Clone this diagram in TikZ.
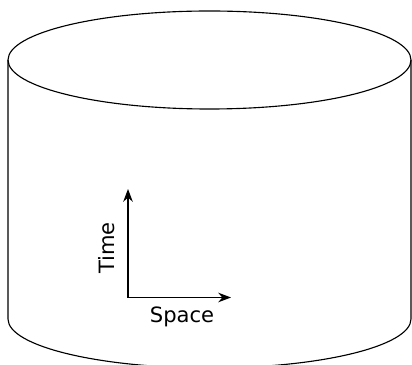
\documentclass[tikz,border=0pt]{standalone}
\usepackage{fontspec}
\setmainfont{DejaVu Sans}
\usetikzlibrary{arrows.meta,positioning,calc}

\begin{document}
\begin{tikzpicture}[
    x=0.025cm, y=-0.025cm,
    wall/.style={draw=black, line width=0.8pt},
    axis/.style={-{Stealth[length=3.2mm,width=2.4mm]}, line width=0.8pt},
    lbl/.style={font=\fontsize{15}{18}\selectfont, inner sep=0pt}
  ]
    \useasboundingbox (0,0) rectangle (412,365);
    \clip (0,0) rectangle (412,365);
    % cylinder
    \coordinate (top) at (209.5,60);
    \coordinate (bot) at (209.5,319);
    \draw[wall] (top) ellipse [x radius=201.5, y radius=-49];
    \draw[wall] ($(top)+(-201.5,0)$) -- ($(bot)+(-201.5,0)$)
      arc [start angle=180, end angle=360, x radius=201.5, y radius=-49]
      -- ($(top)+(201.5,0)$);
    % axes
    \coordinate (o) at (128,297.5);
    \coordinate (t) at (128,189);
    \coordinate (s) at (231,297.5);
    \draw[axis] (o) -- (t);
    \draw[axis] (o) -- (s);
    \node[lbl, rotate=90] (time) at (107,248) {Time};
    \node[lbl] (space) at (182,317) {Space};
  \end{tikzpicture}
\end{document}
